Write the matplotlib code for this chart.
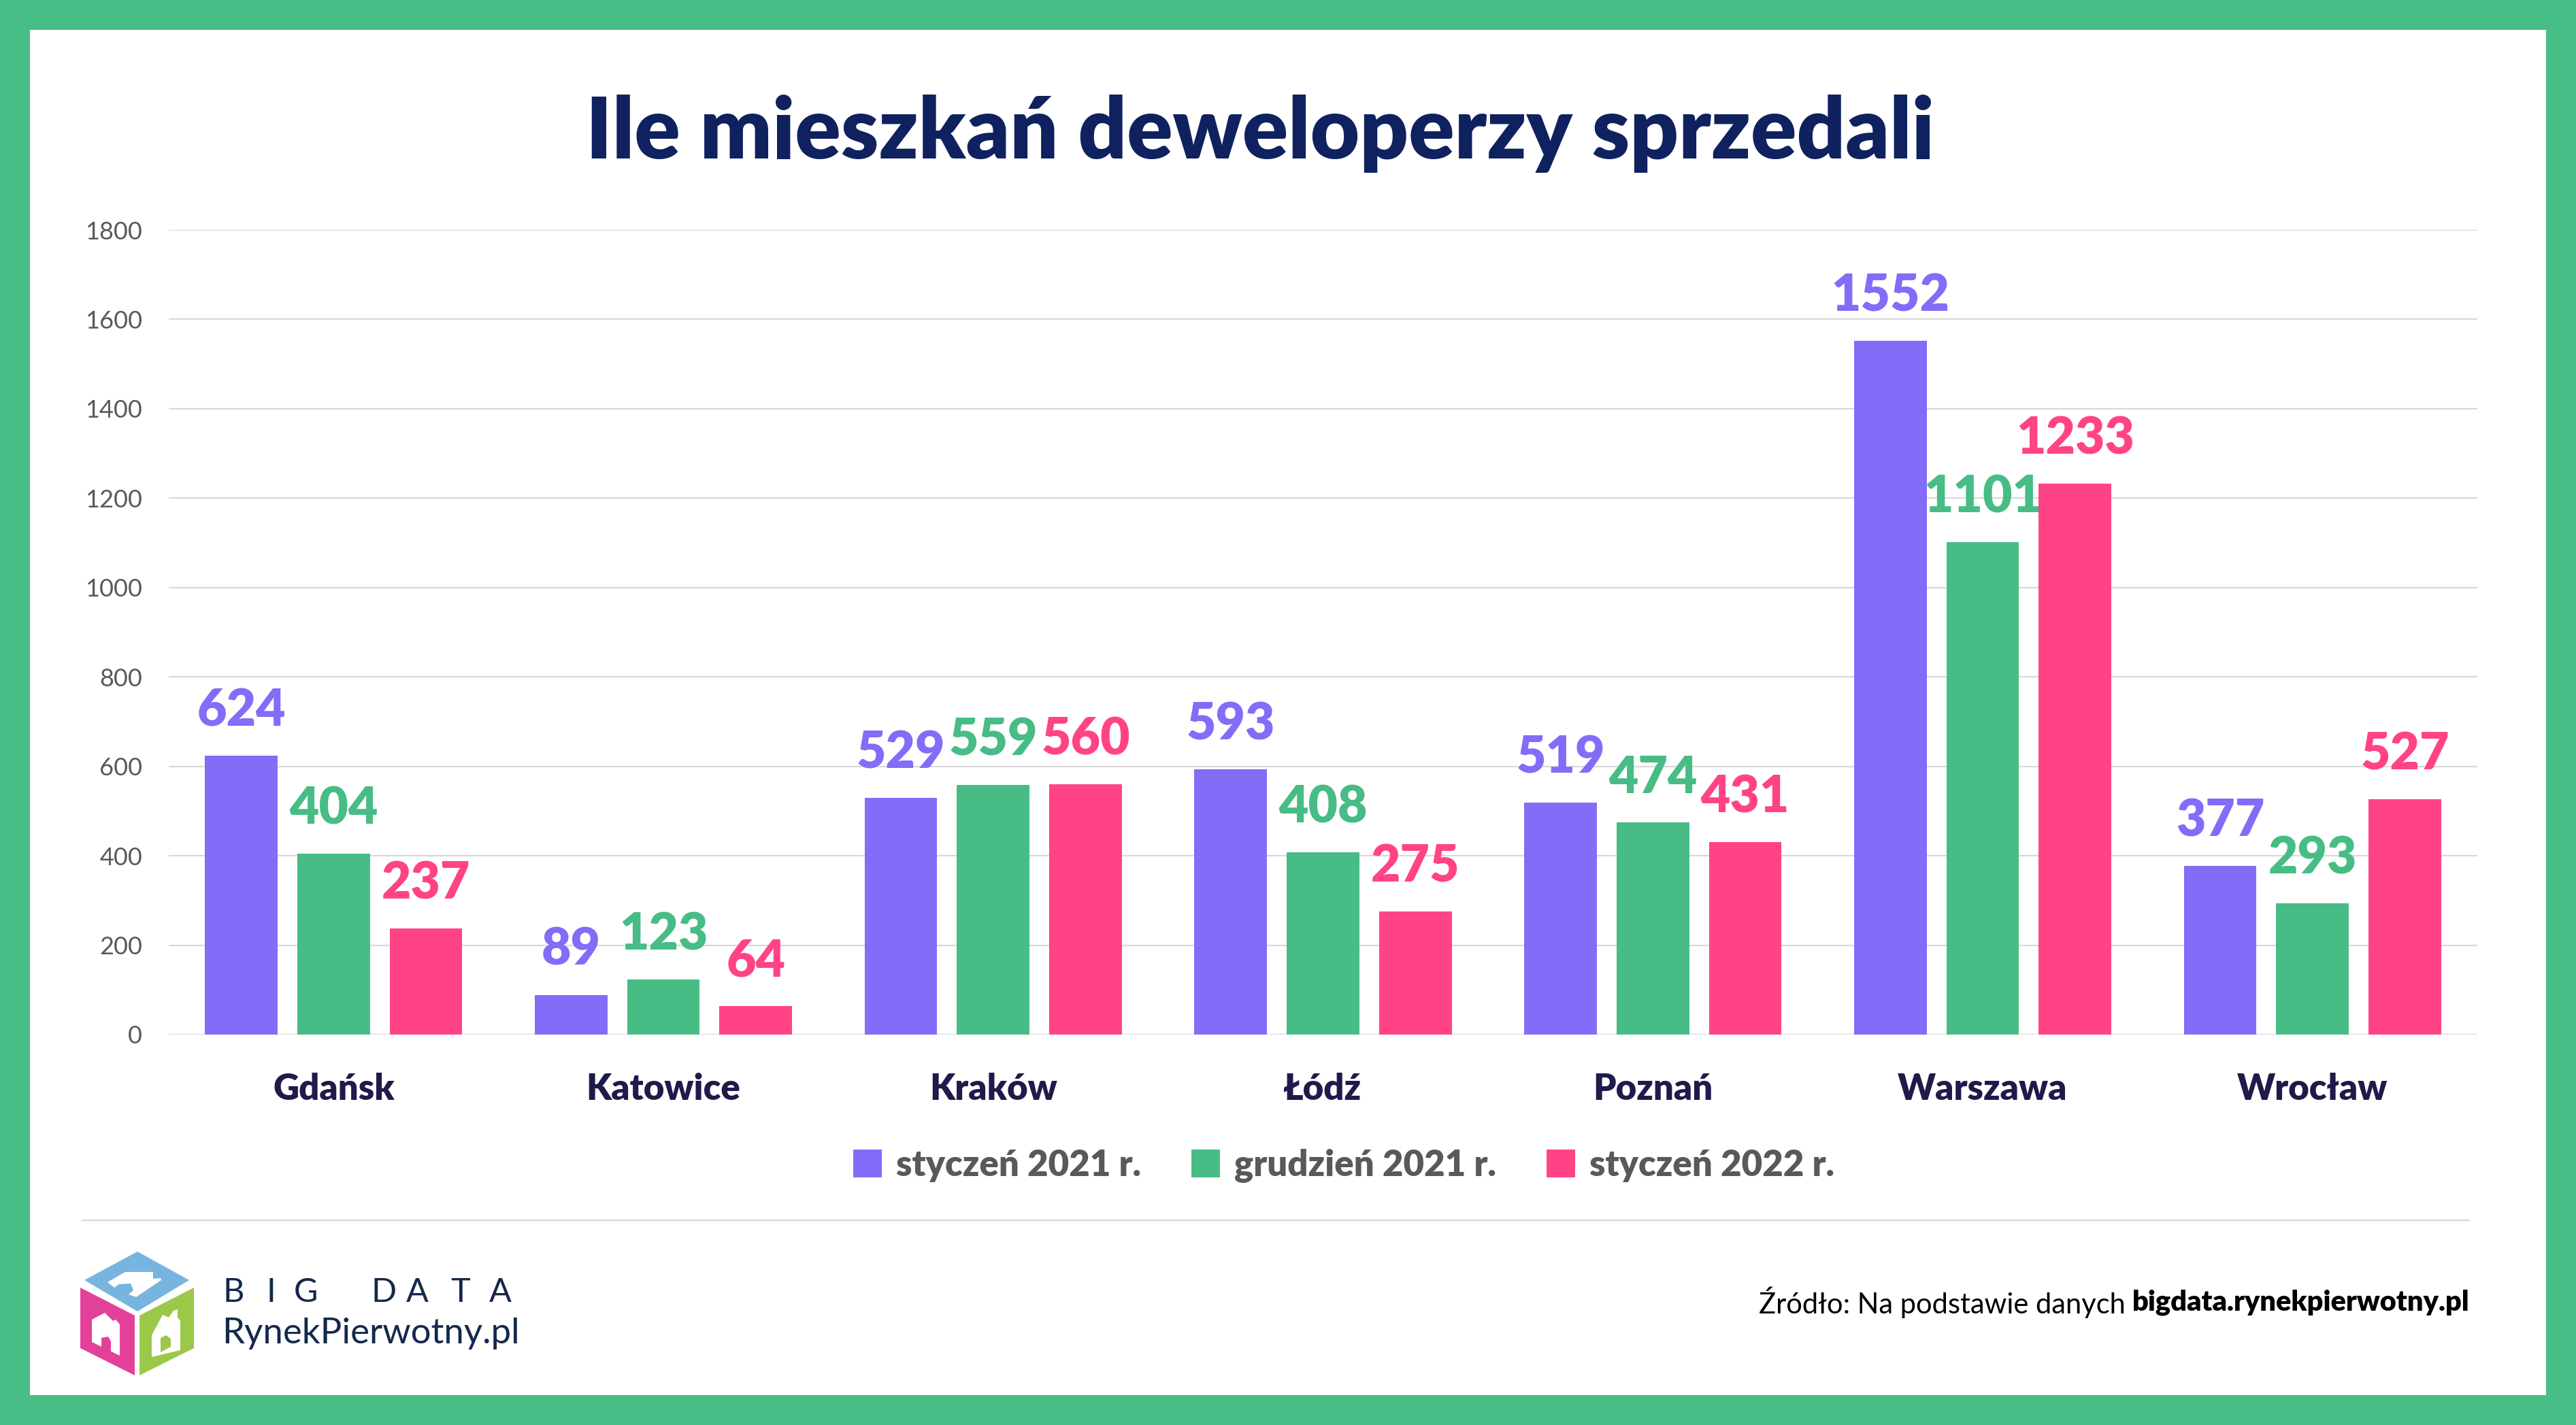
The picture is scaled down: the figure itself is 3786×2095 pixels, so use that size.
import numpy as np
import matplotlib.pyplot as plt
from matplotlib.patches import Rectangle, Polygon

plt.rcParams["font.family"] = ["Lato", "DejaVu Sans"]

cities = ["Gdańsk", "Katowice", "Kraków", "Łódź", "Poznań", "Warszawa", "Wrocław"]
series_names = ["styczeń 2021 r.", "grudzień 2021 r.", "styczeń 2022 r."]
jan_2021 = [624, 89, 529, 593, 519, 1552, 377]
dec_2021 = [404, 123, 559, 408, 474, 1101, 293]
jan_2022 = [237, 64, 560, 275, 431, 1233, 527]
yticks = [0, 200, 400, 600, 800, 1000, 1200, 1400, 1600, 1800]

colors = ["#836CF7", "#47BC85", "#FF4386"]
navy = "#0F215E"
W, H = 3786, 2095

fig = plt.figure(figsize=(W / 100, H / 100), dpi=100, facecolor="#47BE86")
# white card inside green frame
fig.add_artist(Rectangle((44 / W, 44 / H), 1 - 88 / W, 1 - 88 / H,
                         transform=fig.transFigure, facecolor="white",
                         edgecolor="none", zorder=-10))

ax = fig.add_axes([248 / W, 1 - 1521 / H, (3641 - 248) / W, (1521 - 338) / H])
ax.set_facecolor("none")

x = np.arange(len(cities))
bw = 0.22
off = 0.28
for i, (vals, name) in enumerate(zip([jan_2021, dec_2021, jan_2022], series_names)):
    bars = ax.bar(x + (i - 1) * off, vals, width=bw, color=colors[i], label=name, zorder=3)
    ax.bar_label(bars, padding=22, fontsize=54, fontweight="heavy", color=colors[i])

ax.set_xlim(-0.5, len(cities) - 0.5)
ax.set_ylim(0, 1800)
ax.set_yticks(yticks)
ax.set_yticklabels([str(v) for v in yticks], fontsize=26, color="#595959")
ax.set_xticks(x)
ax.set_xticklabels(cities, fontsize=38, fontweight="heavy", color="#1E1B4B")
ax.tick_params(axis="y", length=0, pad=28)
ax.tick_params(axis="x", length=0, pad=40)
ax.grid(axis="y", color="#D9D9D9", lw=1.6, zorder=0)
for s in ax.spines.values():
    s.set_visible(False)

fig.text(1852 / W, 1 - 196 / H, "Ile mieszkań deweloperzy sprzedali", ha="center",
         va="center", fontsize=90, fontweight="heavy", color=navy)

leg = fig.legend(loc="center", bbox_to_anchor=(1975 / W, 1 - 1714 / H), ncol=3,
                 frameon=False, fontsize=38, handlelength=0.8, handleheight=0.8,
                 handletextpad=0.4, columnspacing=1.4)
for t in leg.get_texts():
    t.set_color("#595959")
    t.set_fontweight("heavy")

# separator line
fig.add_artist(plt.Line2D([121 / W, 3629 / W], [1 - 1794 / H] * 2,
                          transform=fig.transFigure, color="#D9D9D9", lw=1.6))

# logo cube with little house cut-outs
def fpoly(pts, color, z=2):
    fig.add_artist(Polygon([(px / W, 1 - py / H) for px, py in pts], closed=True,
                           transform=fig.transFigure, facecolor=color,
                           edgecolor="none", zorder=z))

fpoly([(202, 1840), (278, 1882), (202, 1928), (124, 1882)], "#78B4E0")
fpoly([(118, 1893), (198, 1934), (198, 2022), (118, 1982)], "#E34199")
fpoly([(205, 1934), (285, 1893), (285, 1982), (205, 2022)], "#9CC84A")

fpoly([(158, 1885), (184, 1870), (225, 1870), (225, 1880), (236, 1879), (237, 1882),
       (228, 1888), (200, 1907), (189, 1903), (196, 1897), (192, 1887), (175, 1888),
       (168, 1893)], "white", 3)
fpoly([(135, 1940), (154, 1930), (166, 1942), (170, 1940), (176, 1947), (176, 1993),
       (135, 1973)], "white", 3)
fpoly([(149, 1967), (159, 1965), (163, 1972), (163, 1988), (149, 1982)], "#E34199", 4)
fpoly([(223, 1963), (239, 1933), (248, 1937), (255, 1927), (261, 1925), (261, 1937),
       (265, 1942), (265, 1985), (223, 1995)], "white", 3)
fpoly([(236, 1967), (244, 1963), (251, 1968), (251, 1980), (236, 1988)], "#9CC84A", 4)

for letter, lx in zip("BIGDATA", [328, 391, 432, 545, 597, 662, 719]):
    fig.text(lx / W, 1 - 1900 / H, letter, ha="left", va="center",
             fontsize=35, color="#13294B")
fig.text(326 / W, 1 - 1960 / H, "RynekPierwotny.pl", ha="left", va="center",
         fontsize=38, color="#13294B")

src_bold = fig.text(3629 / W, 1 - 1915 / H, "bigdata.rynekpierwotny.pl", ha="right",
                    va="center", fontsize=30, fontweight="heavy", color="black")
fig.canvas.draw()
bb = src_bold.get_window_extent()
fig.text(bb.x0 / W - 10 / W, 1 - 1915 / H, "Źródło: Na podstawie danych", ha="right",
         va="center", fontsize=30, color="black")

fig.savefig("out.png", dpi=100, facecolor=fig.get_facecolor())
